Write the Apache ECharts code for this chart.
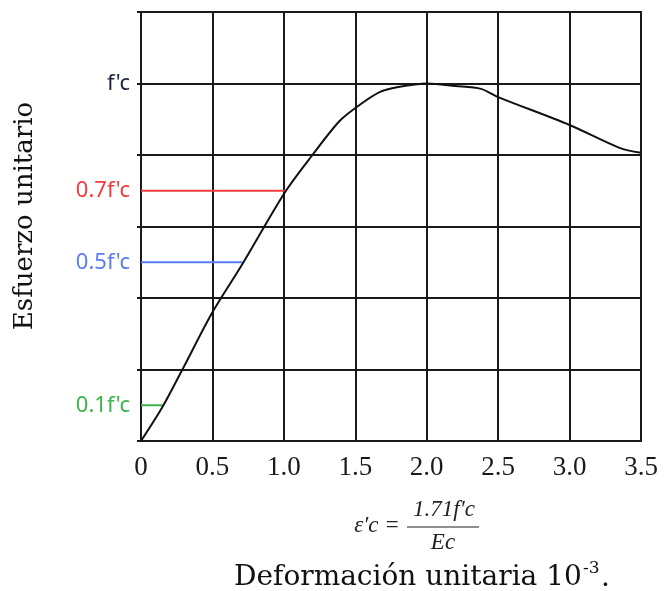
<!DOCTYPE html>
<html>
<head>
<meta charset="utf-8">
<script src="https://cdn.jsdelivr.net/npm/echarts@6/dist/echarts.min.js"></script>
<style>html,body{margin:0;padding:0;background:#fff}#c{width:668px;height:591px}</style>
</head>
<body>
<div id="c"></div>
<script>
// Curve data (strain x10^-3, stress as fraction of f'c)
const strain = [0, 0.15, 0.29, 0.5, 0.71, 1.01, 1.2, 1.39, 1.53, 1.67, 1.8, 2.0, 2.2, 2.38, 2.5, 3.0, 3.35, 3.5];
const stress = [0, 0.095, 0.2, 0.36, 0.495, 0.697, 0.8, 0.895, 0.94, 0.976, 0.99, 1.0, 0.993, 0.985, 0.962, 0.884, 0.82, 0.806];
// Reference levels
const levelValues = [0.1, 0.5, 0.7];
const levelStrainEnd = [0.15, 0.71, 1.01];
const levelColors = ['#3cb44b', '#5a7cf2', '#f03c3c'];
// Y label texts
const yLabelValues = [0.1, 0.5, 0.7, 1.0];
const yLabelTexts = ["0.1f'c", "0.5f'c", "0.7f'c", "f'c"];
const yLabelStyles = ['g', 'b', 'r', 'k'];
const xTicks = [0, 0.5, 1.0, 1.5, 2.0, 2.5, 3.0, 3.5];

const chart = echarts.init(document.getElementById('c'));
const levelSeries = levelValues.map((lv, i) => ({
  type: 'line', xAxisIndex: 0, yAxisIndex: 0, symbol: 'none', silent: true,
  lineStyle: { color: levelColors[i], width: 2 },
  data: [[0, lv], [levelStrainEnd[i], lv]], z: 3
}));
const serif = 'DejaVu Serif';
chart.setOption({
  animation: false,
  grid: { left: 141, right: 27, top: 12, bottom: 150, show: true, borderColor: '#1a1a1a', borderWidth: 2 },
  xAxis: {
    type: 'value', min: 0, max: 3.5, interval: 0.5,
    axisLine: { lineStyle: { color: '#1a1a1a', width: 2 } },
    axisTick: { show: false },
    splitLine: { show: true, lineStyle: { color: '#1a1a1a', width: 2 } },
    axisLabel: {
      margin: 13, color: '#1a1a1a', fontFamily: 'Liberation Serif', fontSize: 27,
      formatter: v => (v === 0 ? '0' : v.toFixed(1))
    }
  },
  yAxis: [{
    type: 'value', min: 0, max: 1.2, interval: 0.2,
    axisLine: { show: true, lineStyle: { color: '#1a1a1a', width: 2 } },
    axisTick: { show: true, inside: false, length: 4, lineStyle: { color: '#1a1a1a', width: 2 } },
    splitLine: { show: true, lineStyle: { color: '#1a1a1a', width: 2 } },
    axisLabel: { show: false }
  }, {
    type: 'value', min: 0, max: 1.2, interval: 0.1, position: 'left',
    axisLine: { show: false }, axisTick: { show: false }, splitLine: { show: false },
    axisLabel: {
      margin: 11, fontFamily: 'Noto Sans', fontSize: 23,
      formatter: v => {
        const idx = yLabelValues.findIndex(t => Math.abs(t - v) < 1e-6);
        return idx < 0 ? '' : '{' + yLabelStyles[idx] + '|' + yLabelTexts[idx] + '}';
      },
      rich: {
        g: { color: '#3cb44b', fontFamily: 'Noto Sans', fontSize: 22 },
        b: { color: '#5a7cf2', fontFamily: 'Noto Sans', fontSize: 22 },
        r: { color: '#f03c3c', fontFamily: 'Noto Sans', fontSize: 22 },
        k: { color: '#1a2540', fontFamily: 'Noto Sans', fontSize: 22 }
      }
    }
  }],
  series: [{
    type: 'line', symbol: 'none', smooth: 0.3, z: 4,
    lineStyle: { color: '#111', width: 2 },
    data: strain.map((s, i) => [s, stress[i]])
  }].concat(levelSeries),
  graphic: [
    { type: 'text', position: [25, 216], rotation: Math.PI / 2,
      style: { x: 0, y: 0, text: 'Esfuerzo unitario', fill: '#111', fontFamily: serif, fontSize: 26, textAlign: 'center', textVerticalAlign: 'middle' } },
    { type: 'text', style: { x: 377, y: 526, text: "\u03b5\u2032c =", fill: '#222', fontFamily: 'Liberation Serif', fontStyle: 'italic', fontSize: 23, textAlign: 'center', textVerticalAlign: 'middle' } },
    { type: 'text', style: { x: 444, y: 510, text: "1.71f\u2032c", fill: '#222', fontFamily: 'Liberation Serif', fontStyle: 'italic', fontSize: 23, textAlign: 'center', textVerticalAlign: 'middle' } },
    { type: 'line', shape: { x1: 407, y1: 527, x2: 479, y2: 527 }, style: { stroke: '#222', lineWidth: 1 } },
    { type: 'text', style: { x: 443, y: 543, text: "Ec", fill: '#222', fontFamily: 'Liberation Serif', fontStyle: 'italic', fontSize: 23, textAlign: 'center', textVerticalAlign: 'middle' } },
    { type: 'text', style: { x: 234, y: 578, text: 'Deformación unitaria 10', fill: '#111', fontFamily: serif, fontSize: 28, textAlign: 'left', textVerticalAlign: 'middle' } },
    { type: 'text', style: { x: 583, y: 569, text: '-3', fill: '#111', fontFamily: serif, fontSize: 17, textAlign: 'left', textVerticalAlign: 'middle' } },
    { type: 'text', style: { x: 601, y: 579, text: '.', fill: '#111', fontFamily: serif, fontSize: 28, textAlign: 'left', textVerticalAlign: 'middle' } }
  ]
});
</script>
</body>
</html>
